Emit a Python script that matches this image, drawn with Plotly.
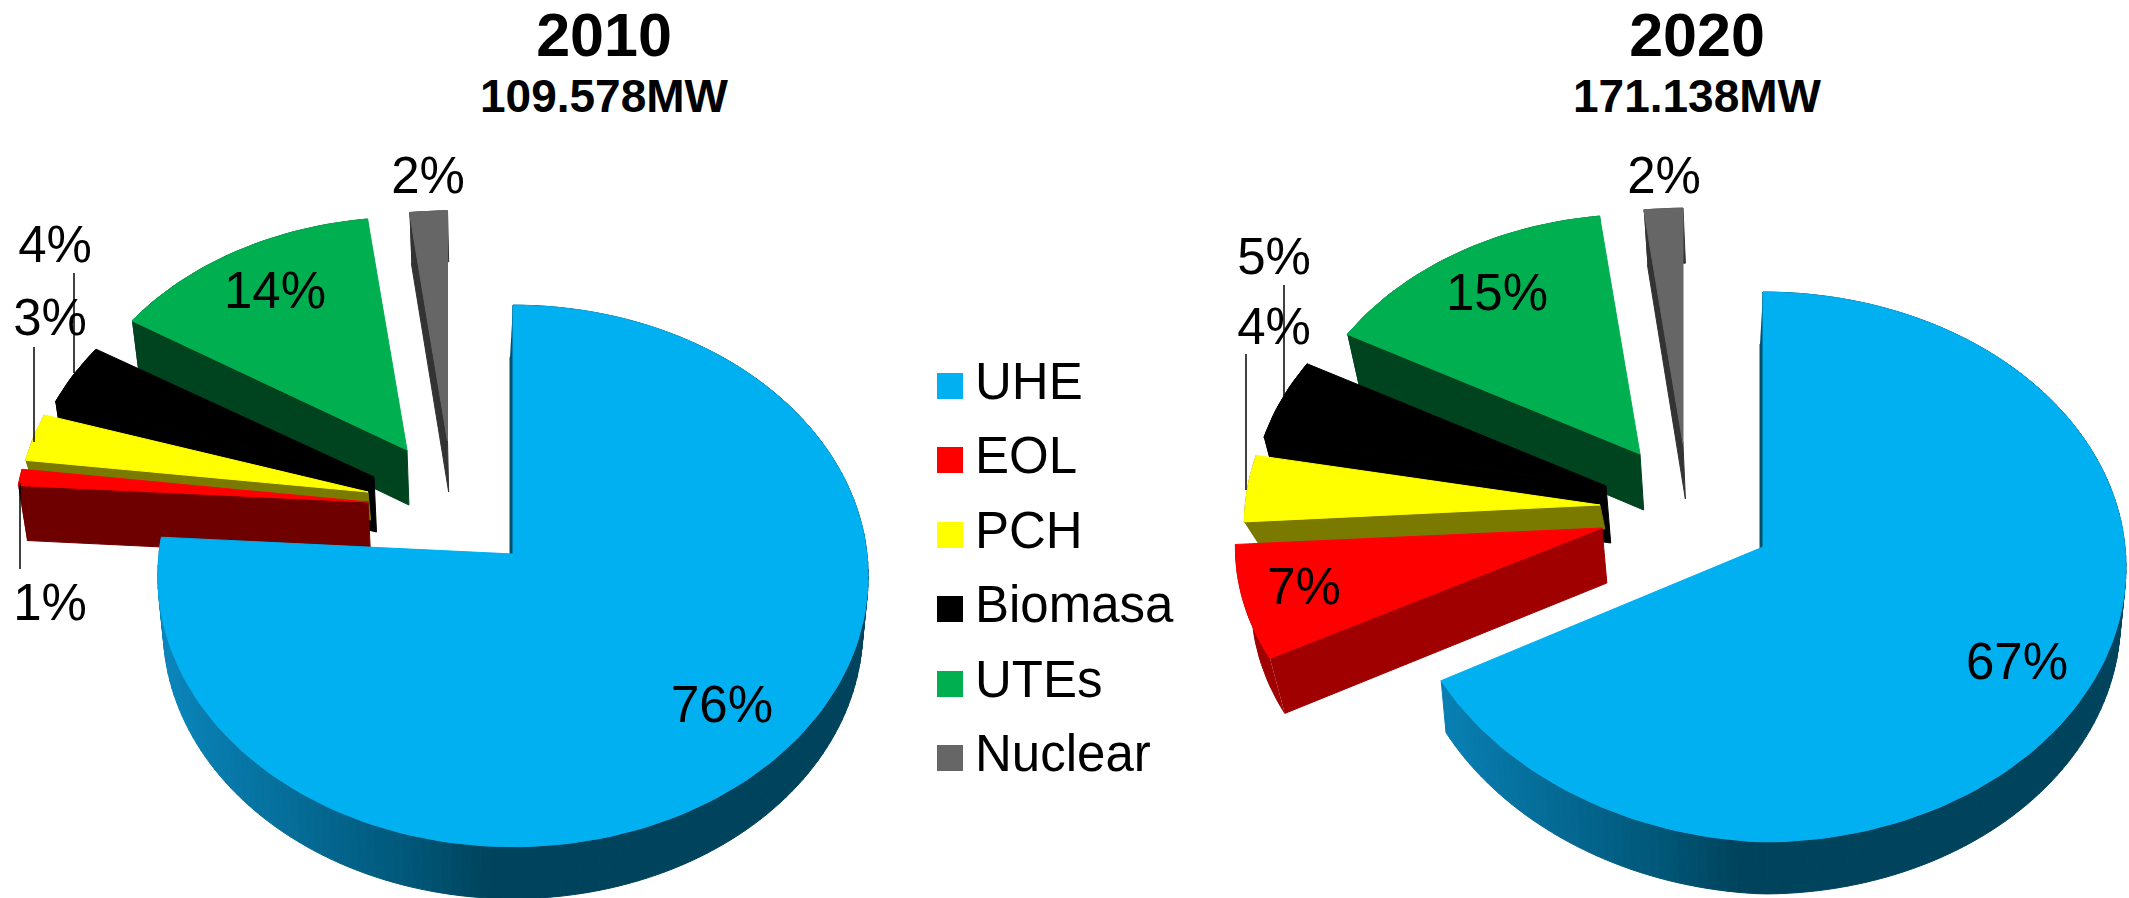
import math
import plotly.graph_objects as go

categories = ["UHE", "EOL", "PCH", "Biomasa", "UTEs", "Nuclear"]
values_2010 = [76, 1, 3, 4, 14, 2]
values_2020 = [67, 7, 4, 5, 15, 2]
titles = ["2010", "2020"]
totals = ["109.578MW", "171.138MW"]

top_colors = ["#00B0F0", "#FF0000", "#FFFF00", "#000000", "#00B050", "#666666"]
wall_2010 = ["#00435C", "#6E0000", "#7A7A00", "#000000", "#00441F", "#333333"]
wall_2020 = ["#00435C", "#A00000", "#7A7A00", "#000000", "#00441F", "#333333"]

# pie projection (canvas layout, not data)
pie_2010 = dict(cx=513, cy=554, A=269, B=354, k=0.081, taper=0.982, squeeze=0.0,
                apex=[(513, 554), (368, 502), (368, 492), (374, 477), (407, 450), (447.5, 441)],
                sx=[1, 0.995, 0.985, 0.97, 0.96, 0.925],
                sy=[1, 0.98, 0.95, 0.925, 0.935, 0.925],
                depth=[52, 55, 28, 55, 55, 51],
                walls=wall_2010, values=values_2010)
pie_2020 = dict(cx=1763, cy=547, A=273.5, B=362, k=0.0727, taper=0.97, squeeze=0.025,
                apex=[(1763, 547), (1602, 528), (1600, 505), (1606, 486), (1640, 454), (1683, 444)],
                sx=[1, 1.01, 0.98, 0.975, 0.955, 0.925],
                sy=[1, 0.955, 0.98, 0.96, 0.94, 0.925],
                depth=[52, 55, 24, 57, 56, 55],
                walls=wall_2020, values=values_2020)

label_pos_2010 = [(722, 709), (50, 607), (50, 322), (55, 249), (275, 295), (428, 180)]
label_pos_2020 = [(2017, 666), (1304, 591), (1274, 331), (1274, 261), (1497, 297), (1664, 180)]
leaders = [((74, 273), (74, 373)), ((34, 347), (34, 442)), ((20, 483), (20, 569)),
           ((1284, 285), (1284, 401)), ((1246, 354), (1246, 490))]
title_x = [604, 1697]
legend_x = 950
legend_text_x = 975
legend_y = [386, 460, 535, 609, 684, 758]

FONT = "Liberation Sans, Arial, sans-serif"
UHE_TAPER = 0.985
fig = go.Figure()


def poly(xs, ys, color):
    fig.add_trace(go.Scatter(x=xs, y=ys, mode="lines", fill="toself", fillcolor=color,
                             line=dict(color=color, width=1), hoverinfo="skip", showlegend=False))


def rim(p, i, deg):
    ax, ay = p["apex"][i]
    t = math.radians(deg)
    w = 1 + p["k"] * math.cos(t)
    f = 1.0
    if i == 0 and 180 < deg < 270:
        f = 1 - p["squeeze"] * math.sin(2 * (t - math.pi))
    return (ax + f * p["sx"][i] * p["B"] * math.sin(t) / w,
            ay - f * p["sy"][i] * p["A"] * math.cos(t) / w)


def low(p, i, pt):
    taper = UHE_TAPER if i == 0 else p["taper"]
    return p["cx"] + (pt[0] - p["cx"]) * taper, pt[1] + p["depth"][i]


def blue_shade(x, cx):
    # light on the left of the wall, deep teal from the centre rightwards
    stops = [(-355, (10, 135, 190)), (-95, (0, 85, 118)), (-25, (0, 67, 92)), (400, (0, 67, 92))]
    d = x - cx
    for (a, ca), (b, cb) in zip(stops, stops[1:]):
        if d <= b:
            f = max(0, (d - a) / (b - a))
            return "rgb(%d,%d,%d)" % tuple(round(ca[n] + (cb[n] - ca[n]) * f) for n in range(3))
    return "rgb(0,67,92)"


def draw_pie(p):
    total = sum(p["values"])
    starts = []
    acc = 0
    for v in p["values"]:
        starts.append(acc / total * 360)
        acc += v
    for i in reversed(range(len(p["values"]))):
        a0 = starts[i]
        a1 = a0 + p["values"][i] / total * 360
        n = max(3, int((a1 - a0) / 1.5))
        degs = [a0 + (a1 - a0) * j / n for j in range(n + 1)]
        top = [rim(p, i, d) for d in degs]
        bot = [low(p, i, q) for q in top]
        apex = p["apex"][i]
        apex_low = low(p, i, apex)
        wall = p["walls"][i]
        if i == 0:
            for j in range(n):
                q = [top[j], top[j + 1], bot[j + 1], bot[j]]
                poly([c[0] for c in q] + [q[0][0]], [c[1] for c in q] + [q[0][1]],
                     blue_shade((bot[j][0] + bot[j + 1][0]) / 2, p["cx"]))
            # thin visible sliver of the cut face at twelve o'clock
            q = [top[0], apex, (apex_low[0] - 3, apex_low[1]), (bot[0][0] - 3, bot[0][1])]
            poly([c[0] for c in q], [c[1] for c in q], "#00506E")
        else:
            poly([c[0] for c in top + bot[::-1]], [c[1] for c in top + bot[::-1]], wall)
            q = [top[0], apex, apex_low, bot[0]]
            poly([c[0] for c in q], [c[1] for c in q], wall)
        outline = [apex] + top + [apex]
        poly([c[0] for c in outline], [c[1] for c in outline], top_colors[i])


draw_pie(pie_2010)
draw_pie(pie_2020)

for a, b in leaders:
    fig.add_trace(go.Scatter(x=[a[0], b[0]], y=[a[1], b[1]], mode="lines",
                             line=dict(color="#000000", width=1.5), hoverinfo="skip", showlegend=False))

for vals, pos in ((values_2010, label_pos_2010), (values_2020, label_pos_2020)):
    fig.add_trace(go.Scatter(x=[c[0] for c in pos], y=[c[1] for c in pos], mode="text",
                             text=[f"{v}%" for v in vals], textposition="middle center",
                             textfont=dict(family=FONT, size=51, color="#000000"),
                             hoverinfo="skip", showlegend=False))

fig.add_trace(go.Scatter(x=[legend_x] * 6, y=legend_y, mode="markers",
                         marker=dict(symbol="square", size=26, color=top_colors, line=dict(width=0)),
                         hoverinfo="skip", showlegend=False))
fig.add_trace(go.Scatter(x=[legend_text_x] * 6, y=legend_y, mode="text", text=categories,
                         textposition="middle right",
                         textfont=dict(family=FONT, size=51, color="#000000"),
                         hoverinfo="skip", showlegend=False))

fig.add_trace(go.Scatter(x=title_x, y=[41, 41], mode="text", text=[f"<b>{t}</b>" for t in titles],
                         textposition="middle center",
                         textfont=dict(family=FONT, size=61, color="#000000"),
                         hoverinfo="skip", showlegend=False))
fig.add_trace(go.Scatter(x=title_x, y=[100, 100], mode="text", text=[f"<b>{t}</b>" for t in totals],
                         textposition="middle center",
                         textfont=dict(family=FONT, size=46, color="#000000"),
                         hoverinfo="skip", showlegend=False))

fig.update_layout(width=2129, height=898, margin=dict(l=0, r=0, t=0, b=0),
                  paper_bgcolor="#FFFFFF", plot_bgcolor="#FFFFFF", showlegend=False,
                  xaxis=dict(range=[0, 2129], visible=False, fixedrange=True),
                  yaxis=dict(range=[898, 0], visible=False, fixedrange=True))
fig.write_html("out.html", config={"displayModeBar": False},
               post_script="document.body.style.margin='0';document.documentElement.style.overflow='hidden';")
